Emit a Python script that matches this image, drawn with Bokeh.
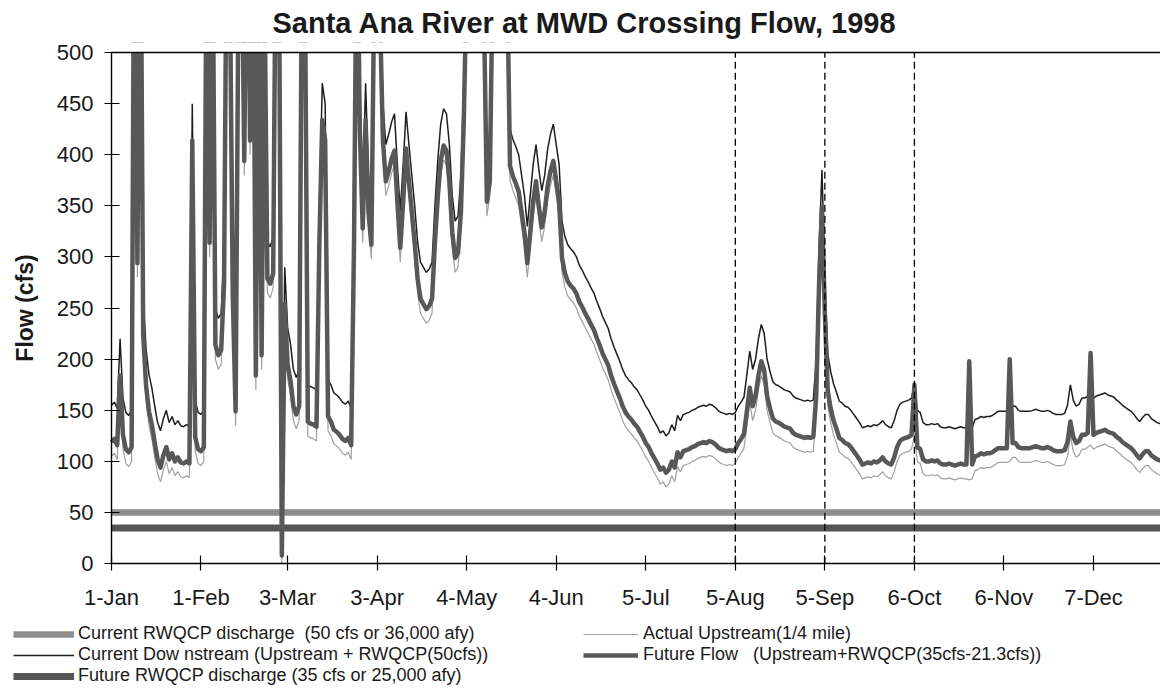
from bokeh.plotting import figure
from bokeh.models import Range1d, FixedTicker, Legend, LegendItem, LinearAxis
from bokeh.embed import file_html
from bokeh.resources import INLINE

# ---------------- data ----------------
title_text = "Santa Ana River at MWD Crossing Flow, 1998"
y_title = "Flow (cfs)"

tick_days = [0, 31, 61, 92, 123, 154, 185, 216, 247, 278, 309, 340]
tick_labels = ["1-Jan", "1-Feb", "3-Mar", "3-Apr", "4-May", "4-Jun",
               "5-Jul", "5-Aug", "5-Sep", "6-Oct", "6-Nov", "7-Dec"]
y_ticks = [0, 50, 100, 150, 200, 250, 300, 350, 400, 450, 500]
marker_days = [216, 247, 278]          # dashed verticals: 5-Aug, 5-Sep, 6-Oct

current_rwqcp_cfs = 50                  # Current RWQCP discharge
future_rwqcp_cfs = 35                   # Future RWQCP discharge

# Actual upstream flow (cfs), daily
upstream_jan = [105, 108, 102, 170, 112, 98, 95, 100, 720, 280, 680, 210, 160, 135, 122, 104,
                88, 80, 92, 100, 88, 94, 86, 90, 85, 84, 86, 84, 400, 110, 98]
upstream_feb = [96, 100, 650, 300, 620, 200, 190, 195, 260, 650, 560, 250, 135, 560, 620, 380,
                700, 400, 650, 170, 600, 190, 550, 265, 260, 270, 640, 600]
upstream_mar = [0, 240, 181, 165, 140, 132, 140, 600, 560, 125, 123, 122, 120, 300, 420, 400,
                130, 125, 117, 115, 112, 108, 106, 109, 102, 300, 650, 410, 314, 420, 330]
upstream_apr = [298, 550, 600, 520, 400, 360, 370, 382, 390, 340, 295, 340, 392, 360, 330, 300,
                265, 245, 240, 235, 238, 245, 300, 345, 380, 395, 390, 360, 310, 285]
upstream_may = [290, 330, 420, 560, 640, 700, 650, 700, 600, 520, 340, 360, 560, 620, 680, 700,
                640, 560, 375, 365, 358, 350, 330, 310, 280, 310, 340, 360, 335, 315, 330]
upstream_jun = [355, 370, 380, 360, 340, 285, 270, 262, 258, 255, 250, 242, 237, 231, 226, 220,
                215, 207, 200, 192, 186, 180, 170, 162, 155, 148, 140, 134, 130, 127]
upstream_jul = [123, 120, 115, 110, 104, 100, 94, 89, 84, 78, 80, 75, 78, 86, 80, 95,
                90, 96, 97, 98, 100, 101, 103, 104, 105, 104, 106, 105, 103, 100, 98]
upstream_aug = [97, 96, 97, 96, 98, 104, 108, 113, 135, 158, 140, 150, 170, 184, 175, 150,
                138, 128, 125, 124, 122, 120, 119, 118, 114, 112, 111, 110, 109, 110, 109]
upstream_sep = [110, 150, 260, 335, 230, 155, 138, 126, 118, 109, 107, 104, 103, 100, 96, 92,
                88, 83, 84, 85, 84, 86, 85, 87, 90, 86, 84, 83, 90, 100]
upstream_oct = [106, 108, 109, 110, 112, 125, 100, 98, 88, 86, 86, 87, 86, 87, 84, 83,
                83, 84, 83, 82, 83, 84, 83, 83, 82, 83, 91, 92, 94, 93, 94]
upstream_nov = [94, 95, 97, 99, 99, 99, 99, 100, 104, 104, 100, 99, 99, 99, 99, 100,
                101, 100, 99, 99, 100, 99, 97, 96, 96, 96, 97, 105, 125, 110]
upstream_dec = [104, 106, 112, 112, 114, 116, 112, 114, 115, 116, 117, 115, 114, 113, 110, 108,
                105, 103, 101, 99, 96, 92, 89, 93, 96, 96, 92, 90, 88, 87, 86]

# Future flow (Upstream + RWQCP(35cfs-21.3cfs)), daily
future_jan = [119, 122, 116, 184, 126, 112, 109, 114, 734, 294, 694, 224, 174, 149, 136, 118,
              102, 94, 106, 114, 102, 108, 100, 104, 99, 98, 100, 98, 414, 124, 112]
future_feb = [110, 114, 664, 314, 634, 214, 204, 209, 274, 664, 574, 264, 149, 574, 634, 394,
              714, 414, 664, 184, 614, 204, 564, 279, 274, 284, 654, 614]
future_mar = [8, 254, 195, 179, 154, 146, 154, 614, 574, 139, 137, 136, 134, 314, 434, 414,
              144, 139, 131, 129, 126, 122, 120, 123, 116, 314, 664, 424, 328, 434, 344]
future_apr = [312, 564, 614, 534, 414, 374, 384, 396, 404, 354, 309, 354, 406, 374, 344, 314,
              279, 259, 254, 249, 252, 259, 314, 359, 394, 409, 404, 374, 324, 299]
future_may = [304, 344, 434, 574, 654, 714, 664, 714, 614, 534, 354, 374, 574, 634, 694, 714,
              654, 574, 389, 379, 372, 364, 344, 324, 294, 324, 354, 374, 349, 329, 344]
future_jun = [369, 384, 394, 374, 354, 299, 284, 276, 272, 269, 264, 256, 251, 245, 240, 234,
              229, 221, 214, 206, 200, 194, 184, 176, 169, 162, 154, 148, 144, 141]
future_jul = [137, 134, 129, 124, 118, 114, 108, 103, 98, 92, 94, 89, 92, 100, 94, 109,
              104, 110, 111, 112, 114, 115, 117, 118, 119, 118, 120, 119, 117, 114, 112]
future_aug = [111, 110, 111, 110, 112, 118, 122, 127, 149, 172, 154, 164, 184, 198, 189, 164,
              152, 142, 139, 138, 136, 134, 133, 132, 128, 126, 125, 124, 123, 124, 123]
future_sep = [124, 164, 274, 349, 244, 169, 152, 140, 132, 123, 121, 118, 117, 114, 110, 106,
              102, 97, 98, 99, 98, 100, 99, 101, 104, 100, 98, 97, 104, 114]
future_oct = [120, 122, 123, 124, 126, 175, 114, 112, 102, 100, 100, 101, 100, 101, 98, 97,
              97, 98, 97, 96, 97, 98, 97, 97, 198, 97, 105, 106, 108, 107, 108]
future_nov = [108, 109, 111, 113, 113, 113, 113, 200, 118, 118, 114, 113, 113, 113, 113, 114,
              115, 114, 113, 113, 114, 113, 111, 110, 110, 110, 111, 119, 139, 124]
future_dec = [118, 120, 126, 126, 128, 206, 126, 128, 129, 130, 131, 129, 128, 127, 124, 122,
              119, 117, 115, 113, 110, 106, 103, 107, 110, 110, 106, 104, 102, 101, 100]

upstream = (upstream_jan + upstream_feb + upstream_mar + upstream_apr + upstream_may + upstream_jun
            + upstream_jul + upstream_aug + upstream_sep + upstream_oct + upstream_nov + upstream_dec)
future_flow = (future_jan + future_feb + future_mar + future_apr + future_may + future_jun
               + future_jul + future_aug + future_sep + future_oct + future_nov + future_dec)
days = list(range(len(upstream)))
# Current downstream = Upstream + RWQCP(50 cfs), as the legend defines it
downstream = [u + current_rwqcp_cfs for u in upstream]
current_rwqcp = [current_rwqcp_cfs] * len(days)
future_rwqcp = [future_rwqcp_cfs] * len(days)

legend_labels = [
    "Current RWQCP discharge  (50 cfs or 36,000 afy)",
    "Current Dow nstream (Upstream + RWQCP(50cfs))",
    "Future RWQCP discharge (35 cfs or 25,000 afy)",
    "Actual Upstream(1/4 mile)",
    "Future Flow   (Upstream+RWQCP(35cfs-21.3cfs))",
]

# ---------------- layout parameters ----------------
FONT = "Liberation Sans"
Y_MIN, Y_MAX = 0, 500                   # value axis limits
X_LO, X_HI = -38.4, 363.2               # visible day span (left part holds the y axis)
Y_TOP = 509.8                           # small strip above 500 so the "500" label is whole
Y_FLOOR = -126                          # frame continues below 0 to hold the legend

p = figure(width=1160, height=692, output_backend="svg", toolbar_location=None,
           x_range=Range1d(X_LO, X_HI), y_range=Range1d(Y_FLOOR, Y_TOP),
           x_axis_location=None, y_axis_location=None,
           min_border_left=0, min_border_right=0, min_border_top=40, min_border_bottom=0,
           background_fill_color="white", border_fill_color="white")
p.outline_line_color = None
p.grid.visible = False

p.title.text = title_text
p.title.text_font = FONT
p.title.text_font_size = "29px"
p.title.text_font_style = "bold"
p.title.text_color = "#1a1a1a"
p.title.align = "left"
p.title.offset = 272
p.title.standoff = 8


def style_axis(ax):
    ax.major_label_text_font = FONT
    ax.major_label_text_font_size = "22px"
    ax.major_label_text_color = "#1a1a1a"
    ax.axis_line_color = "black"
    ax.axis_line_width = 1.4
    ax.major_tick_line_color = "black"
    ax.major_tick_line_width = 1.2
    ax.major_tick_out = 7
    ax.major_tick_in = 8
    ax.minor_tick_line_color = None


# ---------------- series ----------------
r_cur = p.line(days, current_rwqcp, line_color="#8e8e8e", line_width=6.5)
r_futd = p.line(days, future_rwqcp, line_color="#555555", line_width=7)
r_up = p.line(days, upstream, line_color="#a0a0a0", line_width=1.2)
r_down = p.line(days, downstream, line_color="#1e1e1e", line_width=1.5)
r_fut = p.line(days, future_flow, line_color="#585858", line_width=4.5, line_join="round")

# values above the 500 cfs axis limit are cut off, as in the original:
# a white mask over the strip between the axis limit and (beyond) the frame top
p.quad(left=[X_LO - 20], right=[X_HI + 20], bottom=[Y_MAX + 0.7], top=[Y_TOP + 40],
       fill_color="white", line_color="white", line_width=2)

# dashed event lines between the axis limits
p.segment(x0=marker_days, y0=[Y_MIN] * len(marker_days), x1=marker_days,
          y1=[Y_MAX] * len(marker_days), line_color="black", line_dash="7 4", line_width=1.3)

# ---------------- axes ----------------
xa = LinearAxis(fixed_location=Y_MIN, bounds=(0, X_HI), ticker=FixedTicker(ticks=tick_days),
                major_label_overrides={d: lab for d, lab in zip(tick_days, tick_labels)})
style_axis(xa)
xa.major_label_standoff = 14
p.add_layout(xa, "below")

ya = LinearAxis(fixed_location=0, bounds=(Y_MIN, Y_MAX), ticker=FixedTicker(ticks=y_ticks),
                axis_label=y_title)
style_axis(ya)
ya.major_label_standoff = 11
ya.axis_label_text_font = FONT
ya.axis_label_text_font_style = "bold"
ya.axis_label_text_font_size = "23px"
ya.axis_label_text_color = "#1a1a1a"
ya.axis_label_standoff = 16
p.add_layout(ya, "left")

top_axis = LinearAxis(fixed_location=Y_MAX, bounds=(0, X_HI), ticker=FixedTicker(ticks=[]),
                      major_tick_line_color=None, minor_tick_line_color=None,
                      major_label_text_font_size="0px",
                      axis_line_color="black", axis_line_width=1.4)
p.add_layout(top_axis, "above")

# ---------------- legend: one block per row, two columns ----------------
LEG = dict(label_text_font=FONT, label_text_font_size="18px", label_text_color="#1a1a1a",
           glyph_height=10, label_height=12, padding=2, margin=0, spacing=0,
           border_line_color=None, background_fill_alpha=0)
legend_rows = [
    (legend_labels[0], r_cur, (13, 48), 61, 4),
    (legend_labels[1], r_down, (13, 27), 61, 4),
    (legend_labels[2], r_futd, (13, 6), 61, 4),
    (legend_labels[3], r_up, (583, 48), 55, 5),
    (legend_labels[4], r_fut, (583, 27), 55, 5),
]
for lab, rend, loc, gw, so in legend_rows:
    p.add_layout(Legend(items=[LegendItem(label=lab, renderers=[rend])], location=loc,
                        glyph_width=gw, label_standoff=so, **LEG), "center")

open("out.html", "w").write(file_html(p, INLINE))
